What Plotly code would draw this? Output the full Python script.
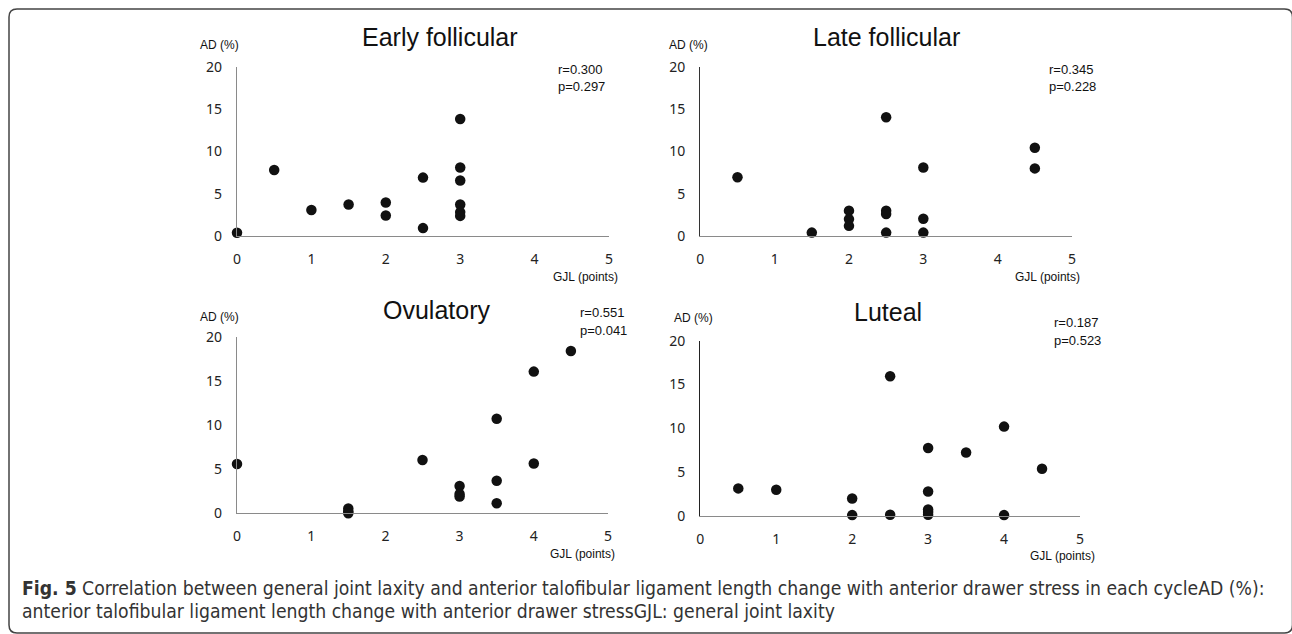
import plotly.graph_objects as go

W, H = 1292, 634

# ---- data ----
titles = ["Early follicular", "Late follicular", "Ovulatory", "Luteal"]
stats_r = ["r=0.300", "r=0.345", "r=0.551", "r=0.187"]
stats_p = ["p=0.297", "p=0.228", "p=0.041", "p=0.523"]

early_x = [0, 0.5, 1, 1.5, 2, 2, 2.5, 2.5, 3, 3, 3, 3, 3, 3]
early_y = [0.35, 7.8, 3.05, 3.7, 3.95, 2.4, 6.9, 0.9, 13.85, 8.1, 6.55, 3.7, 2.8, 2.35]

late_x = [0.5, 1.5, 2, 2, 2, 2.5, 2.5, 2.5, 2.5, 3, 3, 3, 4.5, 4.5]
late_y = [6.95, 0.4, 3.0, 2.0, 1.2, 14.05, 3.0, 2.6, 0.4, 8.1, 2.05, 0.4, 10.45, 8.0]

ovu_x = [0, 1.5, 1.5, 1.5, 2.5, 3, 3, 3, 3.5, 3.5, 3.5, 4, 4, 4.5]
ovu_y = [5.6, 0.55, 0.2, 0.0, 6.05, 3.1, 2.2, 1.9, 10.75, 3.7, 1.15, 16.1, 5.65, 18.45]

lut_x = [0.5, 1, 2, 2, 2.5, 2.5, 3, 3, 3, 3, 3, 3.5, 4, 4, 4.5]
lut_y = [3.15, 3.0, 2.0, 0.1, 15.95, 0.15, 7.75, 2.8, 0.75, 0.45, 0.15, 7.25, 10.2, 0.1, 5.4]

series_x = [early_x, late_x, ovu_x, lut_x]
series_y = [early_y, late_y, ovu_y, lut_y]

x_ticks = [0, 1, 2, 3, 4, 5]
y_ticks = [0, 5, 10, 15, 20]
y_label = "AD (%)"
x_label = "GJL (points)"
caption_1 = "<b>Fig. 5</b> Correlation between general joint laxity and anterior talofibular ligament length change with anterior drawer stress in each cycleAD (%):"
caption_2 = "anterior talofibular ligament length change with anterior drawer stressGJL: general joint laxity"


def px(x):
    return x / W


def py(y):
    return 1 - y / H


# panel pixel boxes: (x0, x1, ytop, ybottom)
boxes = [(237, 609, 67.3, 235.7), (700.3, 1072, 67, 236),
         (237, 608, 337.3, 513.3), (700.3, 1080, 340.7, 516)]
yaxis_colors = ["#8a8a8a", "#333333", "#8a8a8a", "#222222"]
title_pos = [(440, 36.7), (886.7, 36.7), (436.7, 310), (888.3, 311.7)]
adlab_pos = [(198, 45), (666.7, 45), (198, 316.7), (671.7, 318.3)]
stat_pos = [(555.7, 69, 86), (1047, 69, 86), (578, 312.3, 330.7), (1051.7, 322.3, 340)]
gjl_pos = [(551, 277), (1013, 277), (548, 553.5), (1028.3, 555.5)]

fig = go.Figure()
annotations = []
for i in range(4):
    n = "" if i == 0 else str(i + 1)
    fig.add_trace(go.Scatter(
        x=series_x[i], y=series_y[i], mode="markers",
        marker=dict(size=10.5, color="#111111"),
        cliponaxis=False, showlegend=False, hoverinfo="x+y",
        xaxis="x" + n, yaxis="y" + n))
    x0, x1, yt, yb = boxes[i]
    fig.update_layout(**{
        "xaxis" + n: dict(domain=[px(x0), px(x1)], range=[0, 5], tickvals=x_ticks,
                          showgrid=False, zeroline=False, showline=True,
                          linecolor="#8a8a8a", linewidth=1.3, ticks="",
                          ticklabelstandoff=10, anchor="y" + n,
                          tickfont=dict(family="Noto Sans, Open Sans", size=14, color="#222")),
        "yaxis" + n: dict(domain=[py(yb), py(yt)], range=[0, 20], tickvals=y_ticks,
                          showgrid=False, zeroline=False, showline=True,
                          linecolor=yaxis_colors[i], linewidth=1.3, ticks="",
                          ticklabelstandoff=11, anchor="x" + n,
                          tickfont=dict(family="Noto Sans, Open Sans", size=14, color="#222")),
    })
    tx, ty = title_pos[i]
    annotations.append(dict(x=px(tx), y=py(ty), xref="paper", yref="paper", text=titles[i],
                            showarrow=False, xanchor="center", yanchor="middle",
                            font=dict(family="Liberation Sans, Arial", size=25, color="#111")))
    ax, ay = adlab_pos[i]
    annotations.append(dict(x=px(ax), y=py(ay), xref="paper", yref="paper", text=y_label,
                            showarrow=False, xanchor="left", yanchor="middle",
                            font=dict(family="Liberation Sans, Arial", size=12, color="#111")))
    sx, sy1, sy2 = stat_pos[i]
    annotations.append(dict(x=px(sx), y=py(sy1), xref="paper", yref="paper", text=stats_r[i],
                            showarrow=False, xanchor="left", yanchor="middle",
                            font=dict(family="Liberation Sans, Arial", size=13, color="#111")))
    annotations.append(dict(x=px(sx), y=py(sy2), xref="paper", yref="paper", text=stats_p[i],
                            showarrow=False, xanchor="left", yanchor="middle",
                            font=dict(family="Liberation Sans, Arial", size=13, color="#111")))
    gx, gy = gjl_pos[i]
    annotations.append(dict(x=px(gx), y=py(gy), xref="paper", yref="paper", text=x_label,
                            showarrow=False, xanchor="left", yanchor="middle",
                            font=dict(family="Liberation Sans, Arial", size=12, color="#111")))

cap_font = dict(family="Liberation Sans Narrow, DejaVu Sans Condensed, Noto Sans", size=19.2, color="#333")
annotations.append(dict(x=px(20), y=py(588), xref="paper", yref="paper", text=caption_1,
                        showarrow=False, xanchor="left", yanchor="middle", font=cap_font))
annotations.append(dict(x=px(20), y=py(611), xref="paper", yref="paper", text=caption_2,
                        showarrow=False, xanchor="left", yanchor="middle", font=cap_font))

# rounded frame
L, T, R, B, r = 9, 9, 1292.5, 633, 8
path = (f"M {px(L)},{py(T + r)} Q {px(L)},{py(T)} {px(L + r)},{py(T)} "
        f"L {px(R - r)},{py(T)} Q {px(R)},{py(T)} {px(R)},{py(T + r)} "
        f"L {px(R)},{py(B - r)} Q {px(R)},{py(B)} {px(R - r)},{py(B)} "
        f"L {px(L + r)},{py(B)} Q {px(L)},{py(B)} {px(L)},{py(B - r)} Z")

fig.update_layout(
    width=W, height=H, margin=dict(l=0, r=0, t=0, b=0, autoexpand=False),
    paper_bgcolor="white", plot_bgcolor="white",
    annotations=annotations,
    shapes=[dict(type="path", path=path, xref="paper", yref="paper",
                 line=dict(color="#444", width=1.5), layer="below")],
)

fig.write_html("out.html", config={"displayModeBar": False},
               post_script="document.body.style.margin='0px';document.body.style.overflow='hidden';")
